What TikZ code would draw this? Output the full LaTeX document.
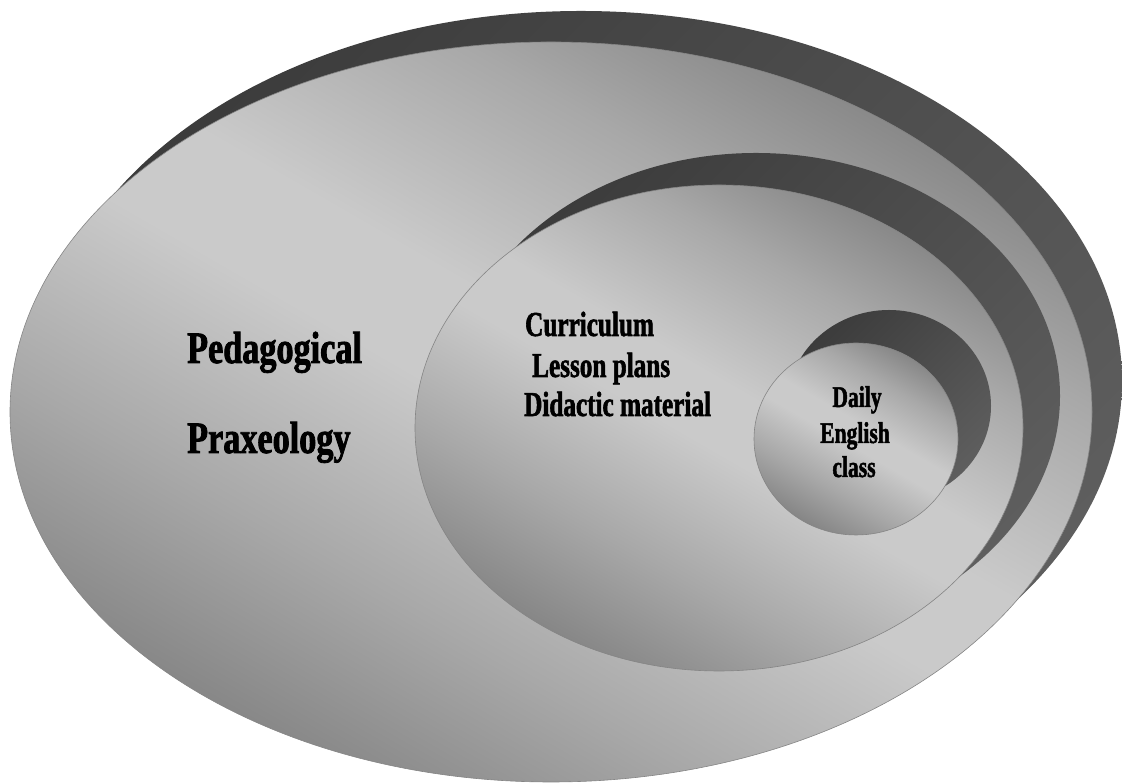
\documentclass[tikz,border=0pt]{standalone}
\usepackage{fontspec}
\newfontfamily\lblfont[FakeStretch=0.72, FakeBold=1.6]{Liberation Serif}
\newfontfamily\biglblfont[FakeStretch=0.76, FakeBold=1.8]{Liberation Serif}
\definecolor{dk}{HTML}{7C7C7C}
\definecolor{md}{HTML}{A8A8A8}
\definecolor{lt}{HTML}{CACACA}
\definecolor{sdA}{HTML}{3C3C3C}
\definecolor{sdB}{HTML}{5E5E5E}
\definecolor{rim}{HTML}{858585}
\pgfdeclarehorizontalshading{discshade}{100bp}{color(0bp)=(dk); color(22bp)=(dk); color(36bp)=(md); color(48bp)=(lt); color(54bp)=(lt); color(66bp)=(md); color(78bp)=(dk); color(100bp)=(dk)}
\pgfdeclarehorizontalshading{shadowshade}{100bp}{color(0bp)=(sdA); color(25bp)=(sdA); color(75bp)=(sdB); color(100bp)=(sdB)}
\tikzset{
  disc/.style={shading=discshade, shading angle=60, draw=rim, line width=0.6pt},
  discshadow/.style={shading=shadowshade, shading angle=-45},
  biglabel/.style={inner sep=0pt, font=\biglblfont\bfseries\fontsize{45}{54}\selectfont},
  midlabel/.style={inner sep=0pt, font=\lblfont\bfseries\fontsize{35}{42}\selectfont},
  smalllabel/.style={inner sep=0pt, font=\lblfont\bfseries\fontsize{30}{36}\selectfont}
}
\begin{document}
\begin{tikzpicture}[x=1pt,y=1pt]
\useasboundingbox (0,0) rectangle (1122,783);
% outer
\path[discshadow] (581,402) ellipse [x radius=541, y radius=370];
\path[disc] (551,371) ellipse [x radius=541, y radius=370];
% middle
\path[discshadow] (756,387) ellipse [x radius=304, y radius=243];
\path[disc] (719,355) ellipse [x radius=304, y radius=243];
% small
\path[discshadow] (889,377) ellipse [x radius=102, y radius=96];
\path[disc] (856,344) ellipse [x radius=102, y radius=96];
% labels
\node[biglabel, anchor=base west] (ped) at (187,420) {Pedagogical};
\node[biglabel, anchor=base west] (prax) at (187,330) {Praxeology};
\node[midlabel, anchor=base west] (curr) at (525,447) {Curriculum};
\node[midlabel, anchor=base west] (less) at (532,406) {Lesson plans};
\node[midlabel, anchor=base west] (did) at (524,367) {Didactic material};
\node[smalllabel, anchor=base] (daily) at (857,376) {Daily};
\node[smalllabel, anchor=base] (eng) at (855,340) {English};
\node[smalllabel, anchor=base] (cls) at (854,306) {class};
\end{tikzpicture}
\end{document}
